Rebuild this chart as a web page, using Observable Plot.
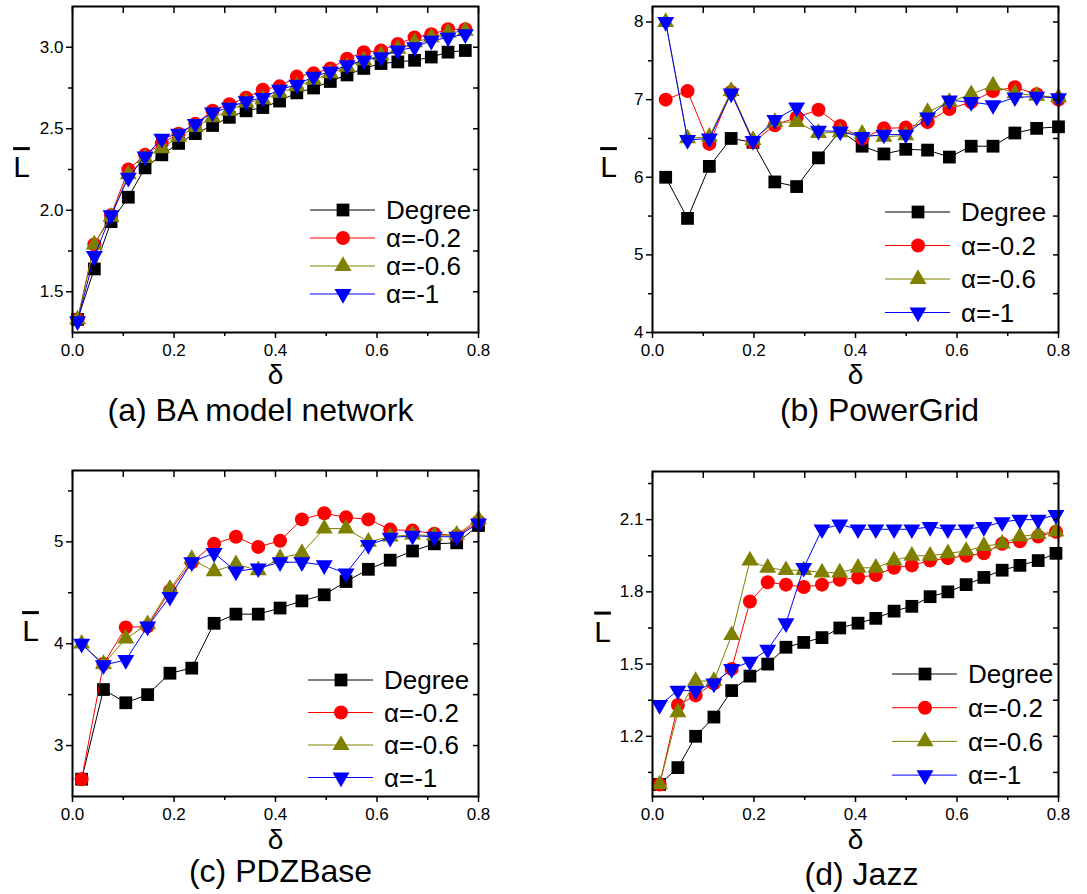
<!DOCTYPE html>
<html><head><meta charset="utf-8">
<script src="https://cdn.jsdelivr.net/npm/d3@7"></script>
<script src="https://cdn.jsdelivr.net/npm/@observablehq/plot@0.6"></script>
<style>
body{margin:0;background:#fff;}
#root{position:relative;width:1087px;height:894px;overflow:hidden;font-family:"Liberation Sans",Arial,sans-serif;}
.panel{position:absolute;}
.legend{position:absolute;overflow:visible;}
</style></head><body><div id="root"></div>
<script>
// ---------- data ----------
const seriesNames = ["Degree", "α=-0.2", "α=-0.6", "α=-1"];
const seriesColors = ["#000000", "#ff0000", "#808000", "#0000ff"];

const xTicksMajor = [0, 0.2, 0.4, 0.6, 0.8];
const xTicksMinor = [0.1, 0.3, 0.5, 0.7];

// (a) BA model network
const xA = [0.010,0.043,0.076,0.110,0.143,0.176,0.209,0.242,0.276,0.309,0.342,0.375,0.408,0.442,0.475,0.508,0.541,0.574,0.608,0.641,0.674,0.707,0.740,0.774];
const degA = [1.33,1.64,1.93,2.08,2.26,2.34,2.41,2.47,2.52,2.57,2.61,2.63,2.67,2.72,2.75,2.79,2.83,2.87,2.90,2.91,2.92,2.94,2.97,2.98];
const redA = [1.33,1.79,1.97,2.25,2.34,2.41,2.47,2.53,2.61,2.65,2.69,2.74,2.76,2.82,2.84,2.87,2.93,2.97,2.98,3.02,3.06,3.08,3.11,3.11];
const oliveA = [1.33,1.79,1.96,2.22,2.32,2.38,2.45,2.51,2.57,2.61,2.66,2.68,2.72,2.76,2.80,2.84,2.88,2.92,2.95,2.99,3.03,3.06,3.09,3.10];
const blueA = [1.32,1.72,1.97,2.20,2.33,2.44,2.47,2.53,2.60,2.63,2.67,2.69,2.74,2.77,2.82,2.85,2.89,2.92,2.94,2.98,3.00,3.04,3.06,3.08];
const yTicksA = [1.5, 2.0, 2.5, 3.0];
const yMinorA = [1.75, 2.25, 2.75];

// (b) PowerGrid
const xB = [0.026,0.069,0.112,0.155,0.198,0.241,0.284,0.327,0.370,0.413,0.456,0.499,0.542,0.585,0.628,0.671,0.714,0.757,0.800];
const degB = [6.00,5.47,6.14,6.50,6.45,5.94,5.88,6.25,6.60,6.40,6.30,6.36,6.35,6.26,6.40,6.40,6.57,6.63,6.65];
const redB = [7.00,7.11,6.43,7.10,6.45,6.67,6.77,6.87,6.66,6.50,6.63,6.64,6.71,6.88,6.97,7.11,7.16,7.07,7.00];
const oliveB = [8.00,6.50,6.52,7.11,6.48,6.71,6.71,6.57,6.58,6.56,6.52,6.54,6.84,6.97,7.07,7.18,7.08,7.05,7.03];
const blueB = [8.00,6.48,6.50,7.08,6.47,6.74,6.90,6.60,6.59,6.52,6.55,6.55,6.77,6.99,6.97,6.93,7.03,7.04,7.02];
const yTicksB = [4, 5, 6, 7, 8];
const yMinorB = [4.5, 5.5, 6.5, 7.5];

// (c) PDZBase
const xC = [0.018,0.061,0.105,0.148,0.192,0.235,0.279,0.322,0.366,0.409,0.452,0.496,0.539,0.583,0.626,0.670,0.713,0.757,0.800];
const degC = [2.67,3.55,3.42,3.50,3.71,3.76,4.20,4.29,4.29,4.35,4.42,4.48,4.61,4.73,4.82,4.91,4.98,4.99,5.16];
const redC = [2.67,3.80,4.16,4.17,4.52,4.80,4.98,5.05,4.95,5.01,5.22,5.28,5.24,5.22,5.12,5.11,5.08,5.06,5.20];
const oliveC = [4.00,3.80,4.05,4.19,4.54,4.83,4.71,4.78,4.72,4.84,4.89,5.13,5.13,5.00,5.05,5.07,5.06,5.07,5.22];
const blueC = [4.00,3.79,3.84,4.17,4.46,4.80,4.89,4.71,4.74,4.80,4.80,4.77,4.69,4.97,5.04,5.06,5.05,5.05,5.18];
const yTicksC = [3, 4, 5];
const yMinorC = [3.5, 4.5, 5.5];

// (d) Jazz
const xD = [0.014,0.050,0.085,0.121,0.156,0.192,0.227,0.263,0.298,0.334,0.369,0.405,0.440,0.476,0.511,0.547,0.582,0.618,0.653,0.689,0.724,0.760,0.795];
const degD = [1.00,1.07,1.20,1.28,1.39,1.45,1.50,1.57,1.59,1.61,1.65,1.67,1.69,1.72,1.74,1.78,1.80,1.83,1.86,1.89,1.91,1.93,1.96];
const redD = [1.00,1.33,1.37,1.42,1.48,1.76,1.84,1.83,1.82,1.83,1.85,1.86,1.87,1.90,1.91,1.93,1.94,1.95,1.96,2.00,2.01,2.03,2.05];
const oliveD = [1.00,1.30,1.43,1.43,1.62,1.93,1.90,1.89,1.89,1.88,1.88,1.90,1.90,1.93,1.95,1.95,1.96,1.97,1.99,2.00,2.03,2.04,2.05];
const blueD = [1.33,1.39,1.39,1.42,1.48,1.51,1.56,1.67,1.90,2.06,2.08,2.06,2.06,2.06,2.06,2.07,2.06,2.06,2.07,2.09,2.10,2.10,2.12];
const yTicksD = [1.2, 1.5, 1.8, 2.1];
const yMinorD = [1.05, 1.35, 1.65, 1.95, 2.25];

// ---------- drawing ----------
const symbols = [
  {symbol: "square", r: 7.2, rotate: 0},
  {symbol: "circle", r: 7, rotate: 0},
  {symbol: "triangle", r: 6.3, rotate: 0},
  {symbol: "triangle", r: 6.3, rotate: 180}
];
const root = document.getElementById("root");
const FONT = "'Liberation Sans', Arial, sans-serif";

function panel(cfg) {
  const W = cfg.width, H = cfg.height;
  const marks = [];
  const ys = [cfg.deg, cfg.red, cfg.olive, cfg.blue];
  ys.forEach((vals, k) => {
    const data = cfg.x.map((x, i) => ({x, y: vals[i]}));
    marks.push(Plot.line(data, {x: "x", y: "y", stroke: seriesColors[k], strokeWidth: 1}));
    marks.push(Plot.dot(data, {x: "x", y: "y", symbol: symbols[k].symbol, r: symbols[k].r,
      fill: seriesColors[k], stroke: "none", rotate: symbols[k].rotate}));
  });
  const empty = () => "";
  marks.push(
    Plot.axisX(xTicksMajor, {anchor: "bottom", tickSize: 6, tickPadding: 5, tickFormat: d3.format(".1f"), label: null, strokeWidth: 1.5}),
    Plot.axisX(xTicksMinor, {anchor: "bottom", tickSize: 4, tickFormat: empty, label: null, strokeWidth: 1.5}),
    Plot.axisX(xTicksMajor.concat(xTicksMinor), {anchor: "top", tickSize: 6, insetTop: 6, tickFormat: empty, label: null, strokeWidth: 1.5}),
    Plot.axisY(cfg.yTicks, {anchor: "left", tickSize: 6, tickPadding: 3, tickFormat: d3.format(cfg.fmt), label: null, strokeWidth: 1.5}),
    Plot.axisY(cfg.yMinor, {anchor: "left", tickSize: 4, tickFormat: empty, label: null, strokeWidth: 1.5}),
    Plot.axisY(cfg.yTicks.concat(cfg.yMinor), {anchor: "right", tickSize: 6, insetRight: 6, tickFormat: empty, label: null, strokeWidth: 1.5}),
    Plot.frame({stroke: "#000", strokeWidth: 2}),
    Plot.text(["L"], {frameAnchor: "left", dx: cfg.ldx, dy: -2, fontSize: 30, textAnchor: "middle", lineAnchor: "middle"}),
    Plot.text(["δ"], {frameAnchor: "bottom", dy: cfg.ddy, fontSize: 28, lineAnchor: "middle"}),
    Plot.text([cfg.title], {frameAnchor: "bottom", dx: cfg.tdx, dy: cfg.tdy, fontSize: 32, lineAnchor: "middle"})
  );
  const chart = Plot.plot({
    width: W, height: H,
    marginLeft: cfg.ml, marginTop: cfg.mt, marginRight: W - cfg.ml - 406, marginBottom: H - cfg.mt - cfg.fh,
    x: {domain: [0, 0.8], label: null},
    y: {domain: cfg.yDomain, label: null},
    style: {fontFamily: FONT, fontSize: "17px", color: "#000", background: "transparent", overflow: "visible"},
    marks
  });
  chart.classList.add("panel");
  chart.style.left = cfg.left + "px";
  chart.style.top = cfg.top + "px";
  // overbar on the L (mean path length)
  chart.querySelectorAll("text").forEach(t => {
    if (t.textContent === "L") {
      t.style.textDecoration = "overline";
      t.style.textDecorationThickness = "3.5px";
    }
  });
  root.appendChild(chart);

  // legend
  const lg = d3.select(root).append("svg").attr("class", "legend")
    .style("left", cfg.lgx + "px").style("top", (cfg.lgy - 15) + "px")
    .attr("width", 200).attr("height", cfg.lgRow * 3 + 30);
  seriesNames.forEach((name, k) => {
    const y = 15 + k * cfg.lgRow;
    lg.append("line").attr("x1", 0).attr("x2", 65).attr("y1", y).attr("y2", y)
      .attr("stroke", seriesColors[k]).attr("stroke-width", 1);
    const sz = symbols[k].r * symbols[k].r * Math.PI;
    const sym = symbols[k].symbol === "square" ? d3.symbolSquare : symbols[k].symbol === "circle" ? d3.symbolCircle : d3.symbolTriangle;
    lg.append("path").attr("d", d3.symbol(sym, sz)())
      .attr("transform", `translate(33,${y}) rotate(${symbols[k].rotate})`)
      .attr("fill", seriesColors[k]);
    lg.append("text").attr("x", 76).attr("y", y).attr("dy", "0.35em")
      .attr("font-size", 26).attr("font-family", FONT)
      .text(name);
  });
}

panel({x: xA, deg: degA, red: redA, olive: oliveA, blue: blueA, yTicks: yTicksA, yMinor: yMinorA, fmt: ".1f",
  yDomain: [1.25, 3.25], left: 0, top: 0, width: 543, height: 450, ml: 72, mt: 6, fh: 326,
  ldx: -51, ddy: 43, title: "(a) BA model network", tdx: -15, tdy: 78, lgx: 310, lgy: 210, lgRow: 28});
panel({x: xB, deg: degB, red: redB, olive: oliveB, blue: blueB, yTicks: yTicksB, yMinor: yMinorB, fmt: "d",
  yDomain: [4, 8.2], left: 580, top: 0, width: 507, height: 450, ml: 72, mt: 6, fh: 326,
  ldx: -44, ddy: 43, title: "(b) PowerGrid", tdx: 24, tdy: 78, lgx: 885, lgy: 212, lgRow: 33.5});
panel({x: xC, deg: degC, red: redC, olive: oliveC, blue: blueC, yTicks: yTicksC, yMinor: yMinorC, fmt: "d",
  yDomain: [2.5, 5.7], left: 0, top: 450, width: 543, height: 444, ml: 72, mt: 20, fh: 326,
  ldx: -42, ddy: 44, title: "(c) PDZBase", tdx: 5, tdy: 75, lgx: 308, lgy: 680, lgRow: 32.5});
panel({x: xD, deg: degD, red: redD, olive: oliveD, blue: blueD, yTicks: yTicksD, yMinor: yMinorD, fmt: ".1f",
  yDomain: [0.95, 2.3], left: 580, top: 450, width: 507, height: 444, ml: 72, mt: 21, fh: 325,
  ldx: -50, ddy: 44, title: "(d) Jazz", tdx: 6, tdy: 78, lgx: 892, lgy: 674, lgRow: 33.7});
</script>
</body></html>
